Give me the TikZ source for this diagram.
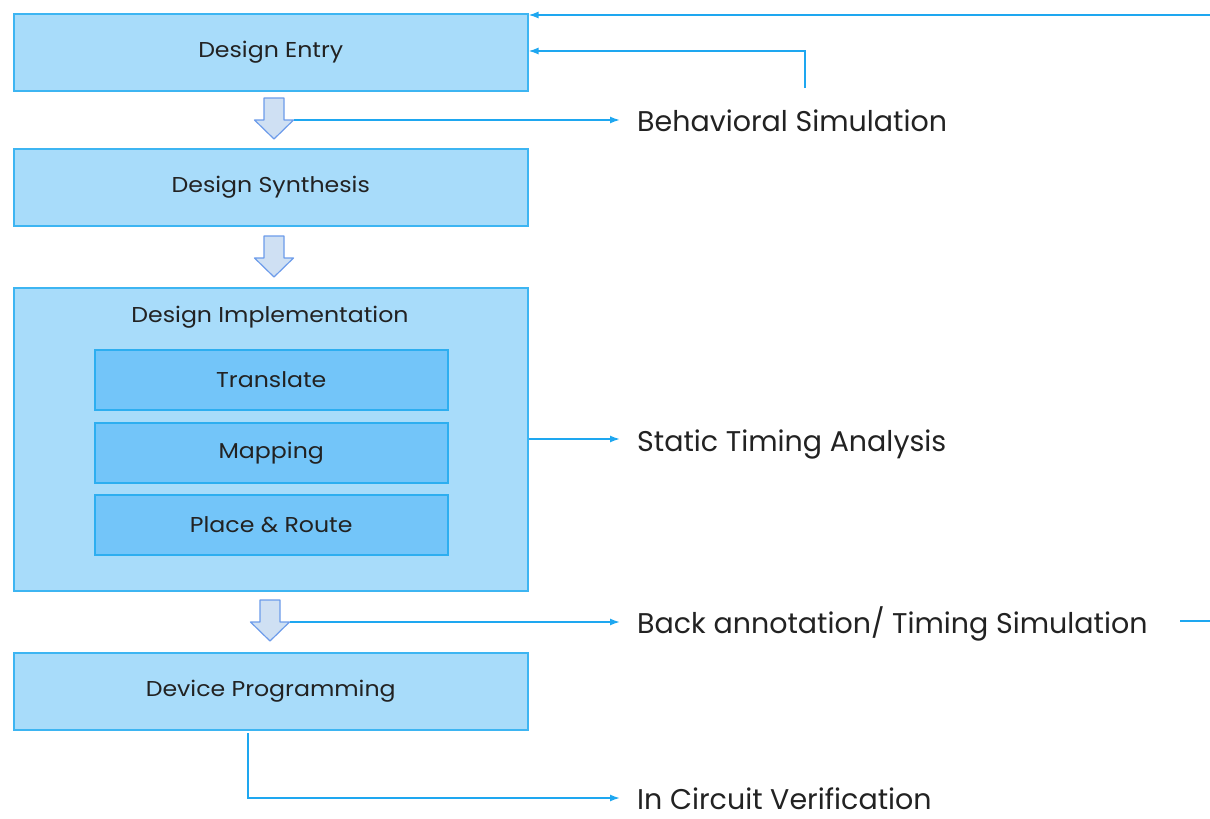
\documentclass[tikz,border=0pt]{standalone}
\usepackage{fontspec}
\setmainfont{Poppins}
\newfontfamily\boxfont[FakeStretch=1.1]{Poppins}
\usetikzlibrary{arrows.meta}
\definecolor{boxfill}{HTML}{A8DCFA}
\definecolor{boxedge}{HTML}{3DB5F2}
\definecolor{subfill}{HTML}{73C5F9}
\definecolor{subedge}{HTML}{2DAEF0}
\definecolor{wire}{HTML}{1EA7F0}
\definecolor{arrfill}{HTML}{CFE0F3}
\definecolor{arredge}{HTML}{6C9BEA}
\definecolor{ink}{HTML}{222222}
\tikzset{
  stage/.style={draw=boxedge, fill=boxfill, line width=1.5pt, minimum width=514pt,
    minimum height=77pt, anchor=north west, inner sep=0pt, text=ink, font=\boxfont\fontsize{21.5}{24}\selectfont},
  substage/.style={draw=subedge, fill=subfill, line width=1.5pt, minimum width=353pt,
    minimum height=60pt, anchor=north west, inner sep=0pt, text=ink, font=\boxfont\fontsize{21.5}{24}\selectfont},
  label/.style={anchor=base west, inner sep=0pt, text=ink, font=\fontsize{28.5}{32}\selectfont},
  link/.style={draw=wire, line width=1.6pt, -{Latex[length=10pt,width=7pt]}},
  plain/.style={draw=wire, line width=1.6pt},
  blockarrow/.pic={
    \draw[draw=arredge, fill=arrfill, line width=1.2pt, line join=round]
      (-10,0) -- (10,0) -- (10,22) -- (19.5,22) -- (0,41) -- (-19.5,22) -- (-10,22) -- cycle;
    \coordinate (-shoulder) at (19.5,22);
  }
}
\begin{document}
\begin{tikzpicture}[x=1pt, y=-1pt]
  \useasboundingbox (0,0) rectangle (1210,819);

  % main flow stages
  \node[stage] (entry) at (13,13) {Design Entry};
  \node[stage] (synth) at (13,148) {Design Synthesis};
  \node[stage, minimum height=303pt] (impl) at (13,287) {};
  \node[anchor=center, text=ink, font=\boxfont\fontsize{21.5}{24}\selectfont] (impltitle) at (270,317) {Design Implementation};
  \node[substage] (translate) at (94,349) {Translate};
  \node[substage] (mapping) at (94,422) {Mapping};
  \node[substage] (par) at (94,494) {Place \& Route};
  \node[stage] (prog) at (13,652) {Device Programming};

  % hollow arrows between stages
  \pic (a1) at (274,98) {blockarrow};
  \pic (a2) at (274,236) {blockarrow};
  \pic (a3) at (270,600) {blockarrow};

  % verification steps
  \node[label] (behav) at (637,131.5) {Behavioral Simulation};
  \node[label] (sta) at (637,451.5) {Static Timing Analysis};
  \node[label] (back) at (637,633.5) {Back annotation/ Timing Simulation};
  \node[label] (icv) at (637,809) {In Circuit Verification};

  \coordinate (topin) at (1210,15);
  \coordinate (loopfoot) at (805,88);
  \coordinate (backout) at (1180,621);
  \coordinate (backedge) at (1210,621);
  \coordinate (progfoot) at (248,733);

  \draw[link] (a1-shoulder) -- (a1-shoulder -| 620,0);
  \draw[link] (a3-shoulder) -- (a3-shoulder -| 620,0);
  \draw[link] (impl.east |- 0,439) -- (620,439);
  \draw[link] (progfoot) |- (620,798);
  \draw[link] (topin) -- (entry.east |- topin);
  \draw[link] (loopfoot) |- (entry.east |- 0,51);
  \draw[plain] (backout) -- (backedge);
\end{tikzpicture}
\end{document}
